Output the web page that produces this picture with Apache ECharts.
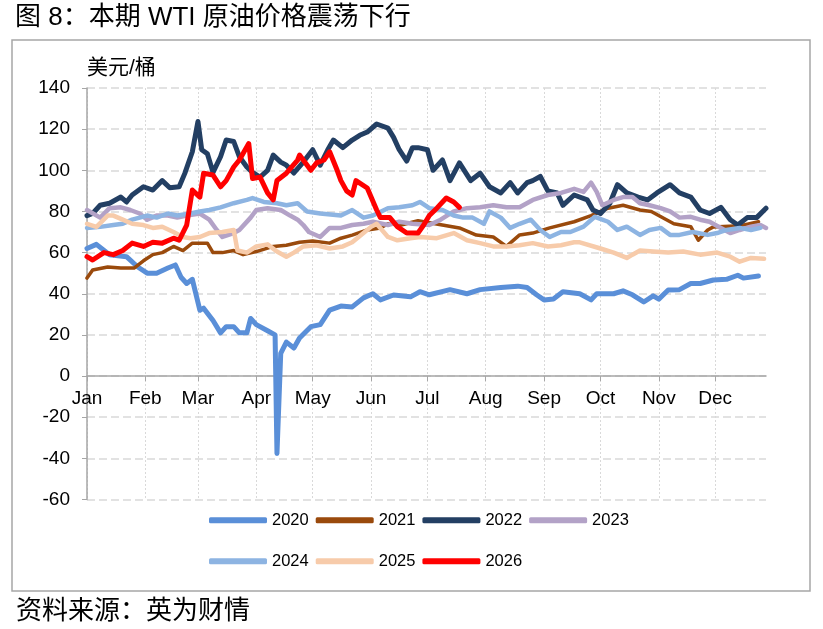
<!DOCTYPE html>
<html>
<head>
<meta charset="utf-8">
<title>WTI</title>
<script src="https://cdn.jsdelivr.net/npm/echarts@6/dist/echarts.min.js"></script>
<style>
    html, body { margin: 0; padding: 0; background: #fff; }
    #main { width: 823px; height: 629px; }
</style>
</head>
<body>
<div id="main"></div>
<script type="text/javascript">
    // month starts (day of year) and labels
    var monthStarts = [0, 31, 59, 90, 120, 151, 181, 212, 243, 273, 304, 334];
    var monthNames = ['Jan', 'Feb', 'Mar', 'Apr', 'May', 'Jun', 'Jul', 'Aug', 'Sep', 'Oct', 'Nov', 'Dec'];
    var lastDay = 361;
    var years = ['2020', '2021', '2022', '2023', '2024', '2025', '2026'];
    var colors = ['#5A8FD8', '#9A4A0C', '#233F63', '#B3A2C7', '#8DB4E2', '#F7CBAA', '#FF0000'];
    var widths = [5, 3.5, 5, 4.5, 4.5, 4.5, 5];

    // [day of year, USD/bbl]
    var wti2020 = [[0,62],[5,64],[12,59],[21,58],[27,53],[32,50],[37,50],[43,52.5],[47,54],[50,48],[53,45],[56,47],[60,32],[62,33],[67,27],[71,21],[74,24],[78,24],[81,21],[85,21],[87,28],[90,25],[96,22],[100,20],[101,-37.6],[103,11],[106,16.5],[110,13.6],[113,18.5],[119,24],[124,25],[129,32],[135,34],[141,33.6],[147,38],[152,40],[156,37],[163,39.4],[172,38.5],[177,41],[182,39.5],[193,42],[202,40],[209,42],[220,43],[229,43.7],[234,43],[239,39.5],[243,37],[248,37.5],[253,41],[262,40],[268,37],[271,40],[280,40],[285,41.4],[290,39.5],[296,36],[301,39],[304,37.4],[309,41.8],[315,42],[321,45],[326,45],[333,46.7],[340,47],[346,49],[349,47.6],[357,48.6]];
    var wti2021 = [[0,47.6],[3,51.5],[11,53],[18,52.5],[25,52.5],[30,56],[35,59],[40,60],[46,63],[51,61],[56,64.6],[64,64.6],[67,60],[72,60],[78,61],[83,59],[90,60.5],[99,63],[106,63.6],[113,65],[120,65.6],[129,64.6],[135,67],[141,68.5],[149,71],[156,72],[160,74],[167,73.4],[176,75.5],[198,72],[207,68.5],[216,67.6],[223,63],[230,68.6],[237,69.5],[246,72],[259,75],[268,78],[277,81.6],[285,83],[294,80.7],[300,80],[312,74],[321,72.6],[325,66],[330,71],[333,72.5],[347,73],[357,75]];
    var wti2022 = [[0,78],[3,79],[7,83],[12,84],[18,87],[21,84.6],[24,88],[30,92],[35,90.4],[40,95],[44,91.5],[49,92],[52,98.5],[56,109],[59,123.7],[61,110],[64,108],[67,99],[71,106.6],[74,114.7],[78,114],[81,106.6],[85,101.6],[88,99],[92,96.7],[96,100],[99,107.4],[103,104],[106,102.5],[110,98.7],[115,104],[120,110],[124,102.5],[128,110],[131,114.7],[136,111],[141,114.7],[145,117],[149,118.6],[154,122.5],[160,120.5],[163,116],[166,110],[170,104.5],[173,111],[176,111],[181,110],[184,100],[189,105],[193,95],[198,103.6],[204,95],[209,98.6],[214,92],[220,89],[225,94],[229,89],[234,94],[237,95],[241,97],[245,90],[250,89],[253,83],[259,88],[266,85.6],[269,80.7],[273,79],[278,84],[282,93],[287,89],[293,87],[298,85.6],[303,89],[310,93],[315,89],[321,87],[326,80.7],[331,79],[337,82],[342,76],[346,73.4],[351,77],[356,77],[361,81.6]];
    var wti2023 = [[0,80.7],[7,77],[12,81.6],[18,82],[23,80.7],[28,79],[32,76],[37,78],[43,78],[48,77],[53,78],[60,79],[65,76],[69,71],[72,67.6],[78,69.5],[81,71],[87,77],[90,80.7],[96,81.6],[103,80.7],[108,78],[112,76],[115,73.4],[118,70],[124,67.6],[129,72],[135,72],[141,73.4],[147,74],[152,75],[160,73.4],[166,75],[173,74],[182,73.4],[188,76],[195,80],[202,81.6],[209,82],[216,83],[223,82],[230,82],[237,85.6],[245,88],[252,89],[259,91],[264,89.5],[268,94],[271,89.5],[274,83],[280,85.6],[285,87],[290,87],[294,84],[299,83],[305,81.6],[310,80],[315,77],[321,77.4],[326,76],[331,75],[337,72],[342,69.5],[347,71],[353,72.6],[358,73.4],[361,72]];
    var wti2024 = [[0,72],[7,72.5],[14,73.4],[19,74],[24,76],[32,78],[37,77],[43,79],[48,78],[55,79],[60,80],[65,80.7],[71,82],[78,84],[85,85.6],[88,86.5],[94,84.6],[101,84],[106,83],[112,84],[117,80],[124,79],[135,78],[141,80.7],[147,77],[152,78],[160,81.6],[166,82],[173,83],[177,84.6],[182,81.6],[189,80.7],[195,78],[200,77],[205,77],[211,74],[214,80],[220,77],[225,72],[230,74],[236,76],[241,71],[246,67.6],[252,70],[257,70],[264,72.6],[270,77.4],[277,75],[282,71],[287,72.6],[294,68.6],[299,71],[305,72],[310,68.6],[315,68.6],[322,70],[330,68.6],[335,69.5],[340,71],[347,72],[353,71],[358,72]];
    var wti2025 = [[0,74],[5,72.5],[11,78],[14,78],[19,76],[24,74],[30,73.4],[35,72],[40,72.6],[46,70],[51,67.6],[55,67],[60,67.6],[65,69.5],[72,70],[78,71],[80,61],[85,60],[90,63],[96,64],[101,60.5],[106,58],[110,60],[115,63],[122,63.6],[129,62],[136,63],[141,65],[147,69.5],[151,72.5],[154,74],[160,67.6],[165,66],[172,67],[177,67.6],[186,67],[195,69.5],[202,66],[209,64.6],[216,63],[223,63],[230,63.6],[237,64.6],[245,63],[252,63.6],[259,65],[262,65],[273,62],[280,60],[287,57.4],[290,59],[294,61],[301,60.5],[309,60],[317,60.5],[326,59],[335,60],[342,58],[347,55.6],[353,57.4],[360,57]];
    var wti2026 = [[0,58],[3,56.4],[9,60],[14,59],[19,61],[24,64.6],[30,63],[35,65],[40,64.6],[46,67],[49,66],[53,73.4],[56,90.4],[60,87],[62,98.6],[67,97.7],[71,92],[74,95],[78,101.6],[81,105],[86,113],[88,96],[92,96.7],[96,89],[99,85.6],[101,95],[106,98.6],[112,105],[113,107.4],[119,100],[122,103.6],[126,105],[129,109],[133,100],[135,95],[138,90],[141,88],[143,95],[149,91.4],[154,80.7],[156,77],[161,77],[165,72.6],[170,69.5],[176,69.5],[179,73.4],[182,78],[186,81.6],[191,86.5],[195,84.6],[198,82]];
    var seriesData = [wti2020, wti2021, wti2022, wti2023, wti2024, wti2025, wti2026];

    var yTicks = { min: -60, max: 140, step: 20 };

    var categories = [];
    for (var d = 0; d <= lastDay; d++) {
        var m = monthStarts.indexOf(d);
        categories.push(m >= 0 ? monthNames[m] : '');
    }
    function isMonthStart(index) {
        return monthStarts.indexOf(index) >= 0;
    }

    var latin = 'Liberation Sans, Arial, Noto Sans CJK SC, sans-serif';
    var cjk = 'Liberation Sans, Noto Sans CJK SC, sans-serif';

    var series = [];
    for (var i = 0; i < years.length; i++) {
        series.push({
            name: years[i],
            type: 'line',
            data: seriesData[i],
            symbol: 'none',
            z: 2 + i,
            lineStyle: { color: colors[i], width: widths[i], cap: 'round', join: 'round' },
            itemStyle: { color: colors[i] }
        });
    }

    var legendBase = {
        left: 204,
        orient: 'horizontal',
        icon: 'roundRect',
        itemWidth: 58,
        itemHeight: 6,
        itemGap: 7,
        textStyle: { fontSize: 16.5, color: '#000', fontFamily: latin }
    };

    // plot area: y from 140 (top) to -60 (bottom); x axis sits on the 0 line
    var gridTop = 88, gridBottom = 129.5, plotHeight = 629 - gridTop - gridBottom;
    var zeroOffset = plotHeight * (0 - yTicks.min) / (yTicks.max - yTicks.min);

    var myChart = echarts.init(document.getElementById('main'), null, { renderer: 'canvas' });
    var option = {
        animation: false,
        backgroundColor: '#fff',
        color: colors,
        title: [
            {
                text: '图 8：本期 WTI 原油价格震荡下行',
                left: 10, top: 0,
                textStyle: { fontSize: 26, fontWeight: 'normal', color: '#000', fontFamily: cjk }
            },
            {
                text: '资料来源：英为财情',
                left: 11, top: 594,
                textStyle: { fontSize: 26, fontWeight: 'normal', color: '#000', fontFamily: cjk }
            }
        ],
        graphic: [
            {
                type: 'rect',
                shape: { x: 12, y: 40, width: 798, height: 551 },
                style: { fill: 'none', stroke: '#A6A6A6', lineWidth: 1.5 },
                silent: true
            }
        ],
        legend: [
            Object.assign({}, legendBase, { top: 507, data: years.slice(0, 4) }),
            Object.assign({}, legendBase, { top: 548, data: years.slice(4) })
        ],
        grid: { left: 87, right: 57, top: gridTop, bottom: gridBottom, containLabel: false },
        xAxis: {
            type: 'category',
            data: categories,
            boundaryGap: false,
            position: 'bottom',
            offset: -zeroOffset,
            axisLine: { onZero: false, lineStyle: { color: '#A6A6A6', width: 1.5 } },
            axisTick: { show: true, interval: isMonthStart, length: 5, lineStyle: { color: '#A6A6A6' } },
            axisLabel: { interval: isMonthStart, fontSize: 19, color: '#000', margin: 13, fontFamily: latin },
            splitLine: { show: true, interval: isMonthStart, lineStyle: { color: '#D9D9D9', width: 1, type: [2, 2] } }
        },
        yAxis: {
            type: 'value',
            min: yTicks.min,
            max: yTicks.max,
            interval: yTicks.step,
            name: '美元/桶',
            nameLocation: 'end',
            nameGap: 9,
            nameTextStyle: { fontSize: 21, color: '#000', align: 'left', fontFamily: cjk },
            axisLine: { show: true, lineStyle: { color: '#A6A6A6', width: 1.5 } },
            axisTick: { show: true, length: 5, lineStyle: { color: '#A6A6A6' } },
            axisLabel: { fontSize: 19, color: '#000', margin: 17, fontFamily: latin },
            splitLine: { show: true, lineStyle: { color: '#D9D9D9', width: 1.5, type: [8, 4] } }
        },
        series: series
    };

    myChart.setOption(option);
    window.onresize = function () {
        myChart.resize();
    };
</script>
</body>
</html>
